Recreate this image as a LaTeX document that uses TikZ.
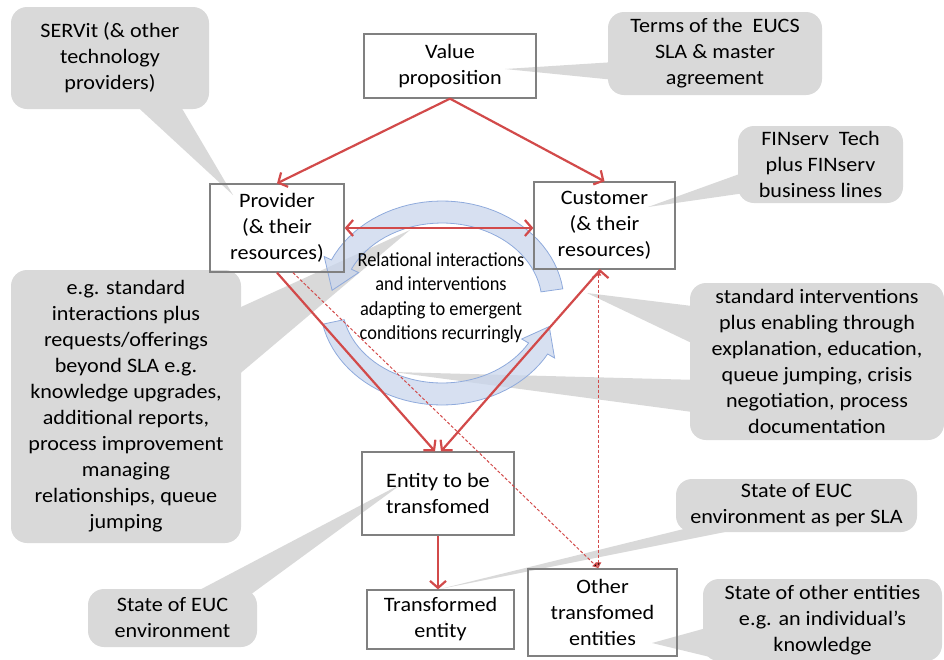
\documentclass[tikz,border=0pt]{standalone}
\usepackage{fontspec}
\setmainfont[FakeStretch=1.08]{Carlito}
\newfontfamily\narrowfont[FakeStretch=0.92]{Carlito}
\usetikzlibrary{arrows.meta}

\definecolor{linkred}{HTML}{D24A4A}
\definecolor{calloutgray}{HTML}{D9D9D9}
\definecolor{boxgray}{HTML}{808080}
\definecolor{cyclefill}{HTML}{C9D6EC}
\definecolor{cycleline}{HTML}{8FAADC}

\begin{document}
\begin{tikzpicture}[x = 1pt, y = -1pt,
    font = \fontsize{20.5}{26}\selectfont,
    box/.style = {draw = boxgray, line width = 1.3pt, align = center, inner sep = 0pt},
    callout/.style = {fill = calloutgray, rounded corners = 16pt, align = center, inner sep = 0pt},
    tail/.style = {fill = calloutgray},
    cyc/.style = {fill = cyclefill, fill opacity = 0.75, draw = cycleline, line width = 0.8pt},
    link/.style = {draw = linkred, line width = 2.2pt, -{Straight Barb[length = 7pt, width = 16pt]}},
    hint/.style = {draw = linkred, line width = 1pt, dash pattern = on 3pt off 2pt, -{Latex[length = 6pt, width = 6pt]}}]
  \useasboundingbox (0,0) rectangle (944,659);

  % callouts
  \node[callout, minimum width = 198pt, minimum height = 102pt] (servit) at (110,58) {SERVit (\& other\\technology\\providers)};
  \node[callout, minimum width = 214pt, minimum height = 83pt] (terms) at (715,53.5) {Terms of the~ EUCS\\SLA \& master\\agreement};
  \node[callout, minimum width = 165pt, minimum height = 77pt] (finserv) at (820.5,164.5) {FINserv~ Tech\\plus FINserv\\business lines};
  \node[callout, minimum width = 230pt, minimum height = 273pt] (offers) at (126,406.5) {e.g. standard\\interactions plus\\requests/offerings\\beyond SLA e.g.\\knowledge upgrades,\\additional reports,\\process improvement\\managing\\relationships, queue\\jumping};
  \node[callout, minimum width = 254pt, minimum height = 157pt] (interv) at (817,361.5) {standard interventions\\plus enabling through\\explanation, education,\\queue jumping, crisis\\negotiation, process\\documentation};
  \node[callout, minimum width = 241pt, minimum height = 53pt] (eucsla) at (796.5,505.5) {State of EUC\\environment as per SLA};
  \node[callout, minimum width = 169pt, minimum height = 58pt] (eucenv) at (172.5,618) {State of EUC\\environment};
  \node[callout, minimum width = 239pt, minimum height = 82pt] (others) at (822.5,620) {State of other entities\\e.g. an individual's\\knowledge};

  \fill[tail] (130,100) -- (177,100) -- (233,195) -- cycle;
  \fill[tail] (615,62) -- (615,80) -- (505,69) -- cycle;
  \fill[tail] (745,172) -- (745,193) -- (648,207) -- cycle;
  \fill[tail] (230,312) -- (230,382) -- (410,230) -- cycle;
  \fill[tail] (700,307) -- (700,347) -- (587,293) -- cycle;
  \fill[tail] (700,380) -- (700,413) -- (393,372) -- cycle;
  \fill[tail] (700,525) -- (760,525) -- (440,589) -- cycle;
  \fill[tail] (190,595) -- (250,595) -- (403,483) -- cycle;
  \fill[tail] (710,627) -- (710,657) -- (652,643) -- cycle;

  % cycle of interactions
  \filldraw[cyc] plot[domain = 8:155, samples = 40] ({442+122*cos(\x)},{303-102*sin(\x)})
    -- ({442+130*cos(155)},{303-110*sin(155)})
    -- ({442+111*cos(172)},{303-91*sin(172)})
    -- ({442+92*cos(155)},{303-72*sin(155)})
    -- plot[domain = 155:8, samples = 40] ({442+100*cos(\x)},{303-80*sin(\x)})
    -- cycle;
  \filldraw[cyc] plot[domain = 192:330, samples = 40] ({442+122*cos(\x)},{303-102*sin(\x)})
    -- ({442+130*cos(330)},{303-110*sin(330)})
    -- ({442+111*cos(345)},{303-91*sin(345)})
    -- ({442+92*cos(330)},{303-72*sin(330)})
    -- plot[domain = 330:192, samples = 40] ({442+100*cos(\x)},{303-80*sin(\x)})
    -- cycle;
  \node[font = \narrowfont\fontsize{20}{24.5}\selectfont, align = center] (relat) at (441,298)
    {Relational interactions\\and interventions\\adapting to emergent\\conditions recurringly};

  % boxes
  \node[box, minimum width = 172pt, minimum height = 64pt] (val) at (450,66) {Value\\proposition};
  \node[box, minimum width = 134pt, minimum height = 88pt] (prov) at (277,228) {Provider\\(\& their\\resources)};
  \node[box, minimum width = 141pt, minimum height = 87pt] (cust) at (604.5,225.5) {Customer\\(\& their\\resources)};
  \node[box, minimum width = 152pt, minimum height = 83pt] (ent) at (438,493.5) {Entity to be\\transfomed};
  \node[box, minimum width = 147pt, minimum height = 59pt] (trans) at (440.5,619.5) {Transformed\\entity};
  \node[box, minimum width = 149pt, minimum height = 87pt] (oth) at (602.5,612.5) {Other\\transfomed\\entities};

  \path[link] (val.south) edge (prov.north)
              (val.south) edge (cust.north)
              (prov.south) edge ([xshift = -3pt]ent.north)
              ([xshift = -4pt]cust.south) edge ([xshift = 3pt]ent.north);
  \draw[link] (ent.south) -- (ent.south |- trans.north);
  \draw[link, {Straight Barb[length = 7pt, width = 16pt]}-{Straight Barb[length = 7pt, width = 16pt]}]
    (prov.east) -- (prov.east -| cust.west);
  \path[hint] ([xshift = 16pt]prov.south) edge ([xshift = -4pt]oth.north)
              ([xshift = -6pt]cust.south) edge ([xshift = -4pt]oth.north);
\end{tikzpicture}
\end{document}
